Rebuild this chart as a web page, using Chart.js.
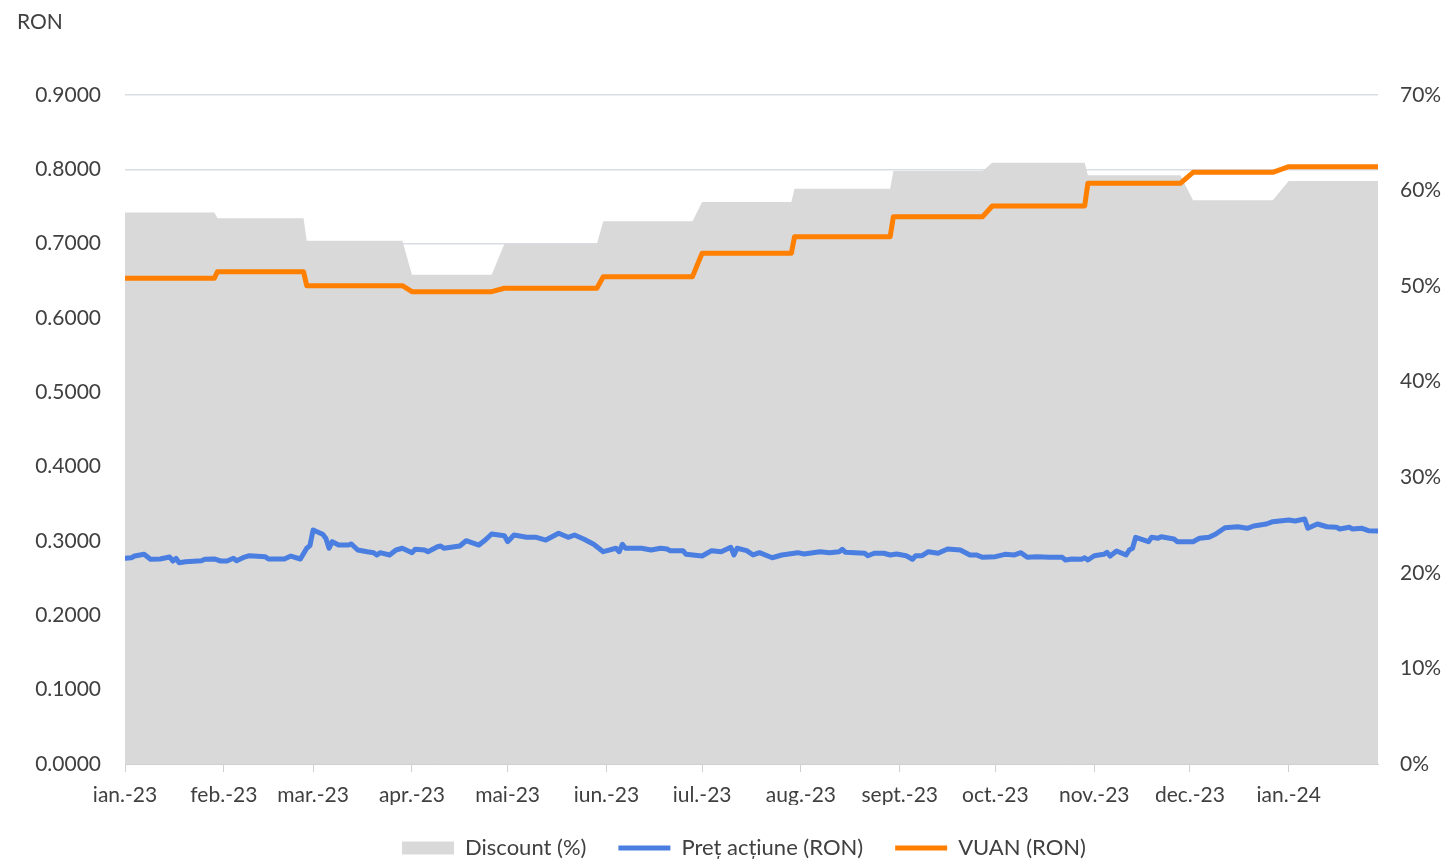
<!DOCTYPE html>
<html>
<head>
<meta charset="utf-8">
<script src="https://cdn.jsdelivr.net/npm/chart.js@4.4.1/dist/chart.umd.min.js"></script>
<style>
html,body{margin:0;padding:0;background:#ffffff;}
canvas{display:block;}
</style>
</head>
<body>
<canvas id="c" width="1450" height="860"></canvas>
<script>
// ---- Data (days counted from 3 Jan 2023, the first day on the axis) ----
const unitLabel = 'RON';
const tickDays = [0, 31, 59, 90, 120, 151, 181, 212, 243, 273, 304, 334, 365];
const tickLabels = ['ian.-23','feb.-23','mar.-23','apr.-23','mai-23','iun.-23','iul.-23','aug.-23','sept.-23','oct.-23','nov.-23','dec.-23','ian.-24'];
const lastDay = 393;

// monthly values: first and last trading day of each month
const monthFirstDay = [0, 29, 57, 90, 119, 150, 181, 210, 241, 272, 302, 335, 365];
const monthLastDay  = [28, 56, 87, 115, 148, 178, 209, 240, 269, 301, 331, 360, 393];
const vuanValues     = [0.6534, 0.6623, 0.6435, 0.6354, 0.6400, 0.6556, 0.6871, 0.7094, 0.7363, 0.7507, 0.7812, 0.7960, 0.8036];
const discountValues = [57.7, 57.1, 54.75, 51.2, 54.4, 56.8, 58.8, 60.2, 62.05, 62.9, 61.6, 59.0, 61.0];

// daily share price
const priceDays = [0,2,3,6,8,11,14,15,16,17,19,24,25,28,30,32,34,35,37,39,
  44,45,50,52,55,57,58,59,62,63,64,65,67,70,71,73,76,78,79,80,
  83,85,87,90,91,94,95,98,99,100,105,107,111,113,115,119,120,122,126,129,
  132,136,139,141,144,147,150,154,155,156,157,162,165,168,170,171,175,176,181,184,
  187,190,191,192,195,197,199,203,206,211,213,218,221,224,225,226,232,233,235,238,
  240,242,245,247,248,250,252,255,258,262,265,267,269,273,276,279,281,283,286,290,
  294,295,297,300,301,302,304,307,308,309,311,314,315,316,317,321,322,324,325,329,
  330,335,337,340,342,345,349,352,354,358,360,365,367,370,371,374,377,380,381,384,
  385,388,390,393];
const priceValues = [0.2767,0.2775,0.2798,0.2821,0.2754,0.2758,0.2785,0.2731,0.2767,0.2708,0.2722,0.2735,0.2754,0.2758,0.2731,0.2731,0.2767,0.2735,0.2775,0.2802,
  0.2789,0.2758,0.2758,0.2798,0.2758,0.2902,0.2937,0.3148,0.3090,0.3036,0.2902,0.2991,0.2946,0.2946,0.2960,0.2879,0.2856,0.2843,0.2812,0.2843,
  0.2812,0.2879,0.2902,0.2843,0.2888,0.2879,0.2856,0.2923,0.2933,0.2902,0.2933,0.3004,0.2946,0.3013,0.3094,0.3071,0.2991,0.3081,0.3050,0.3050,
  0.3013,0.3104,0.3050,0.3081,0.3023,0.2956,0.2856,0.2902,0.2856,0.2956,0.2902,0.2902,0.2879,0.2902,0.2892,0.2870,0.2870,0.2821,0.2798,0.2870,
  0.2856,0.2915,0.2812,0.2902,0.2870,0.2812,0.2843,0.2775,0.2812,0.2843,0.2825,0.2856,0.2843,0.2856,0.2888,0.2848,0.2835,0.2802,0.2835,0.2835,
  0.2812,0.2825,0.2802,0.2754,0.2802,0.2802,0.2856,0.2835,0.2892,0.2879,0.2812,0.2812,0.2781,0.2789,0.2821,0.2812,0.2843,0.2781,0.2789,0.2781,
  0.2781,0.2744,0.2758,0.2754,0.2775,0.2744,0.2802,0.2821,0.2848,0.2798,0.2865,0.2812,0.2879,0.2902,0.3050,0.2991,0.3050,0.3036,0.3058,0.3027,
  0.2991,0.2991,0.3036,0.3050,0.3090,0.3179,0.3192,0.3171,0.3202,0.3229,0.3260,0.3283,0.3269,0.3296,0.3171,0.3229,0.3192,0.3184,0.3161,0.3184,
  0.3161,0.3171,0.3139,0.3135];

const seriesNames = ['Discount (%)', 'Preț acțiune (RON)', 'VUAN (RON)'];

// ---- build point lists from the arrays ----
function monthlySteps(values) {
  const pts = [];
  values.forEach((v, i) => {
    pts.push({x: monthFirstDay[i], y: v});
    pts.push({x: monthLastDay[i], y: v});
  });
  return pts;
}
const pricePoints = priceDays.map((d, i) => ({x: d, y: priceValues[i]}));

const FONT = 'Lato';
const TXT = '#404040';

const ronPlugin = {
  id: 'ronLabel',
  afterInit(chart) {
    const lg = chart.legend;
    if (lg) {
      const f = lg.fit.bind(lg);
      lg.fit = function () { f(); this.height = 55; };
      const d = lg.draw.bind(lg);
      lg.draw = function () {
        const ctx = this.ctx;
        ctx.save();
        ctx.translate(19, 0);
        d();
        ctx.restore();
      };
    }
  },
  afterDraw(chart) {
    const ctx = chart.ctx;
    ctx.save();
    ctx.font = '21px ' + FONT;
    ctx.fillStyle = TXT;
    ctx.textBaseline = 'middle';
    ctx.textAlign = 'left';
    ctx.fillText(unitLabel, 17, 22);
    ctx.restore();
  }
};

new Chart(document.getElementById('c'), {
  type: 'line',
  data: {
    datasets: [
      {
        label: seriesNames[0],
        data: monthlySteps(discountValues),
        yAxisID: 'y1',
        fill: 'origin',
        backgroundColor: '#D9D9D9',
        borderColor: '#D9D9D9',
        borderWidth: 0,
        pointRadius: 0,
        pointHoverRadius: 0,
        pointStyle: 'rect',
        pointBackgroundColor: '#D9D9D9',
        pointBorderWidth: 0,
        tension: 0,
        order: 3
      },
      {
        label: seriesNames[1],
        data: pricePoints,
        yAxisID: 'y',
        fill: false,
        borderColor: '#4A7EE0',
        backgroundColor: '#4A7EE0',
        borderWidth: 5,
        borderJoinStyle: 'round',
        borderCapStyle: 'round',
        pointRadius: 0,
        pointHoverRadius: 0,
        pointStyle: 'line',
        pointBorderColor: '#4A7EE0',
        pointBorderWidth: 5,
        tension: 0,
        order: 1
      },
      {
        label: seriesNames[2],
        data: monthlySteps(vuanValues),
        yAxisID: 'y',
        fill: false,
        borderColor: '#FF7F00',
        backgroundColor: '#FF7F00',
        borderWidth: 5,
        borderJoinStyle: 'round',
        borderCapStyle: 'round',
        pointRadius: 0,
        pointHoverRadius: 0,
        pointStyle: 'line',
        pointBorderColor: '#FF7F00',
        pointBorderWidth: 5,
        tension: 0,
        order: 2
      }
    ]
  },
  options: {
    responsive: false,
    animation: false,
    layout: { padding: { top: 95, left: 0, right: 0, bottom: 0 } },
    plugins: {
      tooltip: { enabled: false },
      legend: {
        position: 'bottom',
        labels: {
          usePointStyle: true,
          pointStyleWidth: 52,
          boxWidth: 52,
          boxHeight: 13,
          padding: 32,
          color: TXT,
          font: { family: FONT, size: 22 },
          sort: (a, b) => a.datasetIndex - b.datasetIndex
        }
      }
    },
    scales: {
      x: {
        type: 'linear',
        min: 0,
        max: lastDay,
        afterBuildTicks: (scale) => { scale.ticks = tickDays.map(v => ({value: v})); },
        afterFit: (scale) => { scale.height = 41; },
        ticks: {
          autoSkip: false,
          maxRotation: 0,
          minRotation: 0,
          padding: 11,
          color: TXT,
          font: { family: FONT, size: 21 },
          callback: (value) => tickLabels[tickDays.indexOf(value)]
        },
        grid: { drawOnChartArea: false, drawTicks: true, tickLength: 8, color: '#D0D0D0' },
        border: { display: true, color: '#D0D0D0' }
      },
      y: {
        position: 'left',
        min: 0,
        max: 0.9,
        afterFit: (scale) => { scale.width = 125; },
        ticks: {
          stepSize: 0.1,
          padding: 24,
          color: TXT,
          font: { family: FONT, size: 21 },
          callback: (v) => Number(v).toFixed(4)
        },
        grid: { color: '#D9DDE3', lineWidth: 1.5, drawTicks: false },
        border: { display: false }
      },
      y1: {
        position: 'right',
        min: 0,
        max: 70,
        afterFit: (scale) => { scale.width = 72; },
        ticks: {
          stepSize: 10,
          padding: 22,
          color: TXT,
          font: { family: FONT, size: 21 },
          callback: (v) => v + '%'
        },
        grid: { drawOnChartArea: false, drawTicks: false },
        border: { display: false }
      }
    }
  },
  plugins: [ronPlugin]
});
</script>
</body>
</html>
